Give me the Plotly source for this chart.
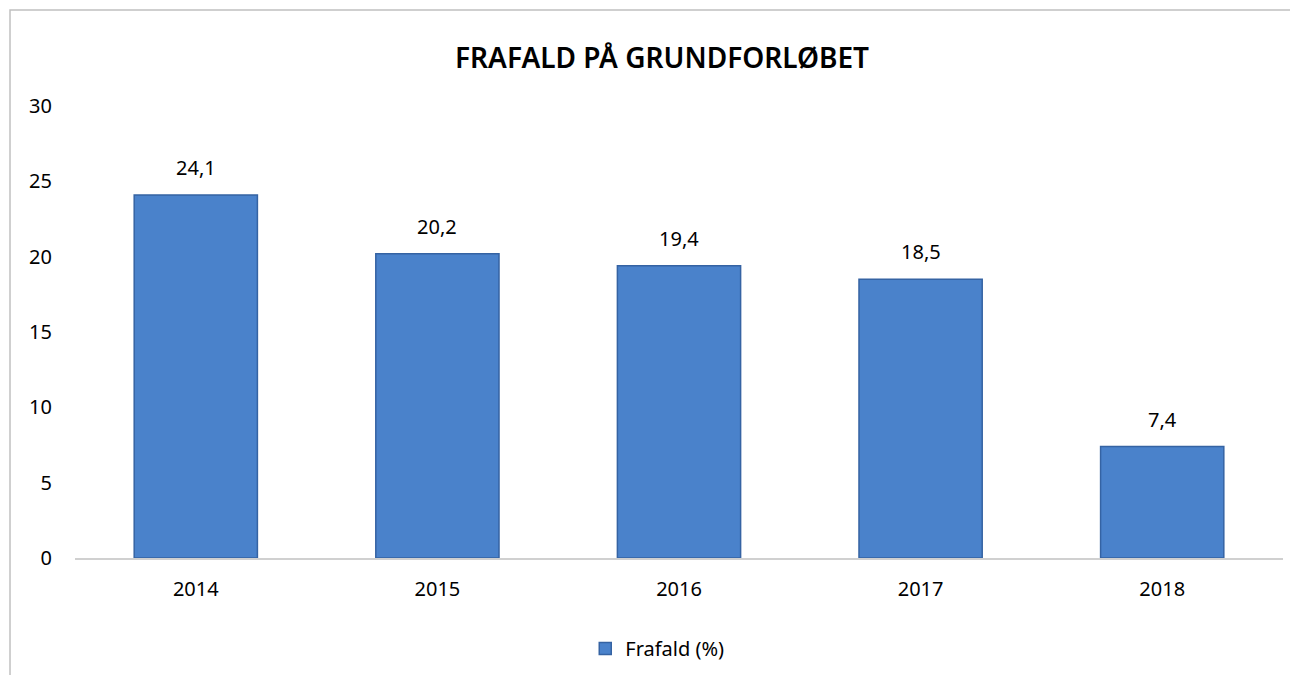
import plotly.graph_objects as go

years = ["2014", "2015", "2016", "2017", "2018"]
frafald = [24.1, 20.2, 19.4, 18.5, 7.4]
series_name = "Frafald (%)"
title_text = "FRAFALD PÅ GRUNDFORLØBET"

fig = go.Figure()
fig.add_trace(go.Bar(
    x=years, y=frafald, name=series_name,
    marker=dict(color="#4a82cb", line=dict(color="#3563a3", width=1.5)),
    width=0.51,
))

# category index positions for the value labels (numeric-looking category names
# would otherwise be read as indices)
annotations = [
    dict(x=i, y=v, xref="x", yref="y", text=f"{v:.1f}".replace(".", ","),
         showarrow=False, yanchor="bottom", yshift=12,
         font=dict(size=20, color="#000000"))
    for i, v in enumerate(frafald)
]

fig.update_layout(
    width=1290, height=667,
    paper_bgcolor="white", plot_bgcolor="white",
    separators=",.",
    font=dict(family="Noto Sans, Open Sans, sans-serif", color="#000000", size=20),
    margin=dict(l=67, r=15, t=98, b=117, autoexpand=False),
    title=dict(text=title_text, x=0.507, xanchor="center", y=0.925, yanchor="middle",
               font=dict(size=28, color="#000000", weight=600)),
    xaxis=dict(type="category", categoryorder="array", categoryarray=years,
               range=[-0.5, len(years) - 0.5],
               showgrid=False, showline=True, linecolor="#d0d0d0", linewidth=2,
               ticks="", tickfont=dict(size=20), ticklabelstandoff=12),
    yaxis=dict(range=[0, 30], dtick=5, showgrid=False, zeroline=False, showline=False,
               tickfont=dict(size=20), ticklabelstandoff=22),
    showlegend=True,
    legend=dict(orientation="h", x=0.482, xanchor="center", y=-0.2, yanchor="middle",
                font=dict(size=20), itemwidth=30),
    annotations=annotations,
    shapes=[dict(type="rect", xref="paper", yref="paper",
                 x0=-0.0538, x1=1.2, y0=-0.4, y1=1.2124,
                 line=dict(color="#c0c0c0", width=1.5), fillcolor="rgba(0,0,0,0)", layer="below")],
)

fig.write_html("out.html")
